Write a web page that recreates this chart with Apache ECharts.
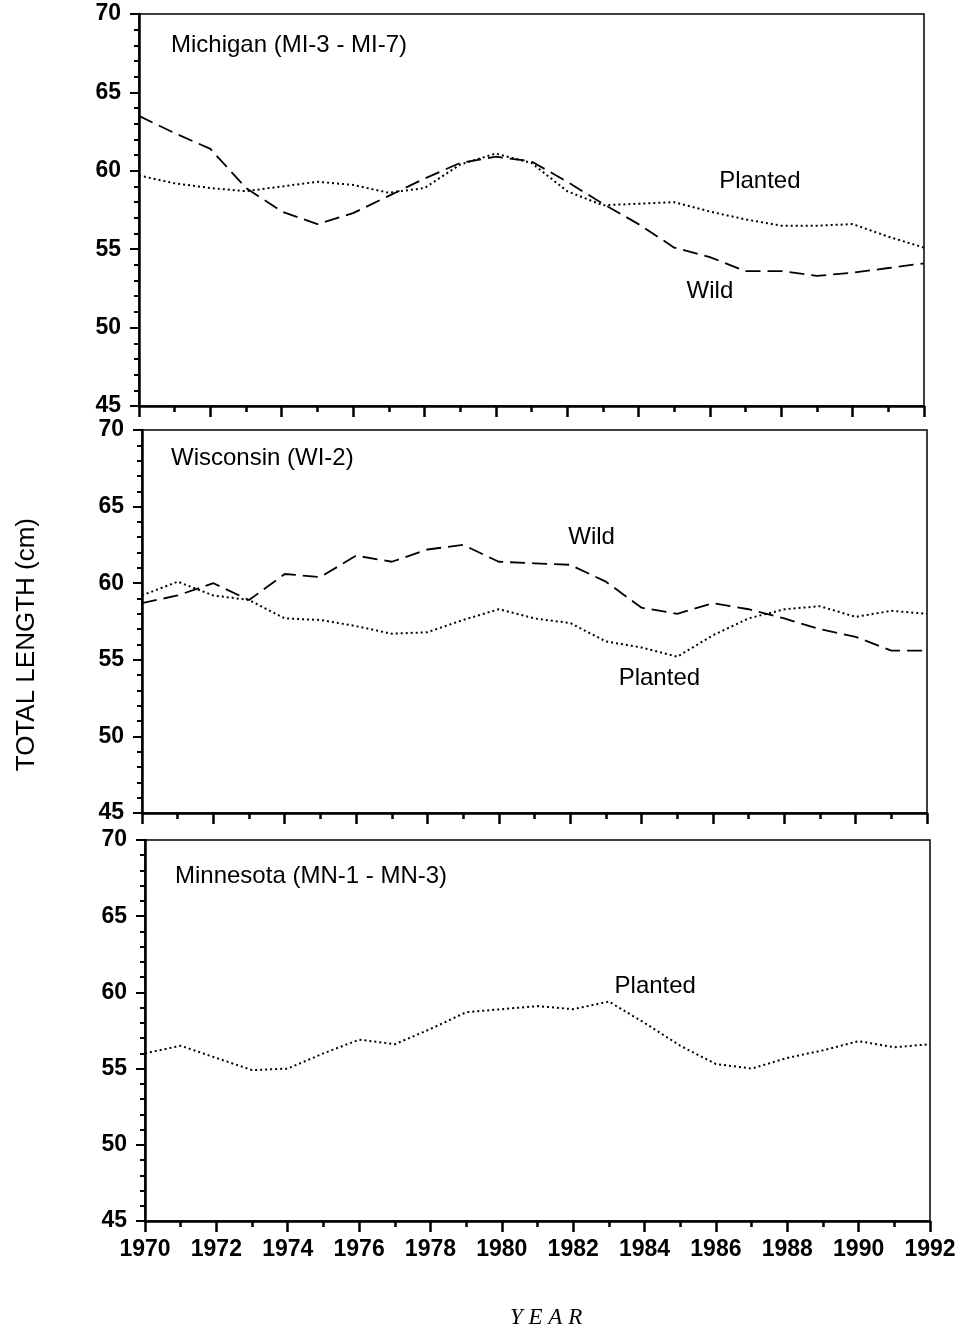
<!DOCTYPE html>
<html>
<head>
<meta charset="utf-8">
<script src="https://cdn.jsdelivr.net/npm/echarts@6/dist/echarts.min.js"></script>
<style>html,body{margin:0;padding:0;background:#fff}#c{width:969px;height:1333px}</style>
</head>
<body>
<div id="c"></div>
<script>
var years = [1970,1971,1972,1973,1974,1975,1976,1977,1978,1979,1980,1981,1982,1983,1984,1985,1986,1987,1988,1989,1990,1991,1992];
var yTicks = [45,50,55,60,65,70];
var xTicks = [1970,1972,1974,1976,1978,1980,1982,1984,1986,1988,1990,1992];
var panelTitles = ["Michigan (MI-3 - MI-7)", "Wisconsin (WI-2)", "Minnesota (MN-1 - MN-3)"];

var michiganWild    = [63.5,62.4,61.4,58.9,57.4,56.6,57.3,58.4,59.5,60.5,60.9,60.6,59.3,57.9,56.6,55.1,54.5,53.6,53.6,53.3,53.5,53.8,54.1];
var michiganPlanted = [59.7,59.2,58.9,58.7,59.0,59.3,59.1,58.6,58.9,60.4,61.1,60.5,58.7,57.8,57.9,58.0,57.4,56.9,56.5,56.5,56.6,55.8,55.1];
var wisconsinWild    = [58.7,59.2,60.0,58.9,60.6,60.4,61.8,61.4,62.2,62.5,61.4,61.3,61.2,60.1,58.4,58.0,58.7,58.3,57.7,57.0,56.5,55.6,55.6];
var wisconsinPlanted = [59.2,60.1,59.2,58.9,57.7,57.6,57.2,56.7,56.8,57.6,58.3,57.7,57.4,56.2,55.8,55.2,56.6,57.7,58.3,58.5,57.8,58.2,58.0];
var minnesotaPlanted = [56.0,56.5,55.7,54.9,55.0,56.0,56.9,56.6,57.6,58.7,58.9,59.1,58.9,59.4,58.0,56.5,55.3,55.0,55.7,56.2,56.8,56.4,56.6];

// annotation anchors in data units: [year, value, text]
var annotations = [
  [[1987.4, 59.3, "Planted"], [1986.0, 52.3, "Wild"]],
  [[1982.6, 63.0, "Wild"], [1984.5, 53.8, "Planted"]],
  [[1984.3, 60.4, "Planted"]]
];

function pairs(arr){ return years.map(function(y,i){ return [y, arr[i]]; }); }

var FONT = "Liberation Sans, Arial, sans-serif";
var grids = [
  {left:139, top:14, width:785, height:392},
  {left:142, top:430, width:785, height:383},
  {left:145, top:840, width:785, height:381}
];

var option = {
  backgroundColor:'#fff',
  animation:false,
  grid: grids.map(function(g){ return Object.assign({show:true, borderColor:'#000', borderWidth:1.5, backgroundColor:'transparent'}, g); }),
  xAxis: grids.map(function(g,i){
    return {
      gridIndex:i, type:'value', min:1970, max:1992, interval:2,
      axisLine:{show:true, onZero:false, lineStyle:{color:'#000', width:2.5}},
      axisTick:{show:true, inside:false, length:11, lineStyle:{color:'#000', width:2.5}},
      minorTick:{show:true, splitNumber:2, length:6, lineStyle:{color:'#000', width:2.5}},
      splitLine:{show:false},
      axisLabel:{show: i===2, margin:17, color:'#000', fontFamily:FONT, fontSize:23, fontWeight:'bold',
        formatter:function(v){ return xTicks.indexOf(v) >= 0 ? String(v) : ''; }}
    };
  }),
  yAxis: grids.map(function(g,i){
    return {
      gridIndex:i, type:'value', min:45, max:70, interval:5,
      axisLine:{show:true, onZero:false, lineStyle:{color:'#000', width:2.5}},
      axisTick:{show:true, inside:false, length:9, lineStyle:{color:'#000', width:2}},
      minorTick:{show:true, splitNumber:5, length:5, lineStyle:{color:'#000', width:2}},
      splitLine:{show:false},
      axisLabel:{margin:18, color:'#000', fontFamily:FONT, fontSize:23, fontWeight:'bold',
        formatter:function(v){ return yTicks.indexOf(v) >= 0 ? String(v) : ''; }}
    };
  }),
  title: panelTitles.map(function(t,i){
    var pos = [[166,28],[166,441],[170,859]][i];
    return {text:t, left:pos[0], top:pos[1], textStyle:{fontFamily:FONT, fontSize:24, fontWeight:'normal', color:'#000'}};
  }),
  graphic:[
    {type:'text', left:14, top:518, rotation:Math.PI/2, style:{text:'TOTAL LENGTH (cm)', font:'26px Liberation Sans, Arial, sans-serif', fill:'#000'}, originX:0, originY:0},
    {type:'text', left:510, top:1306, style:{text:'Y E A R', font:'italic 23px Liberation Serif, Times New Roman, serif', fill:'#000'}}
  ],
  series: []
};

function lineSeries(idx, data, type, ann){
  return {
    type:'line', xAxisIndex:idx, yAxisIndex:idx, data:pairs(data), showSymbol:false, symbol:'none',
    lineStyle:{color:'#000', width: type==='dash' ? 1.8 : 2, type: type==='dash' ? [15,7] : [2,3]},
    markPoint: ann ? {
      symbol:'circle', symbolSize:0, silent:true,
      label:{show:true, position:'inside', formatter:ann[2], color:'#000', fontFamily:FONT, fontSize:24},
      data:[{coord:[ann[0], ann[1]]}]
    } : undefined
  };
}

option.series.push(lineSeries(0, michiganWild, 'dash', annotations[0][1]));
option.series.push(lineSeries(0, michiganPlanted, 'dot', annotations[0][0]));
option.series.push(lineSeries(1, wisconsinWild, 'dash', annotations[1][0]));
option.series.push(lineSeries(1, wisconsinPlanted, 'dot', annotations[1][1]));
option.series.push(lineSeries(2, minnesotaPlanted, 'dot', annotations[2][0]));

var chart = echarts.init(document.getElementById('c'), null, {renderer:'canvas'});
chart.setOption(option);
</script>
</body>
</html>
